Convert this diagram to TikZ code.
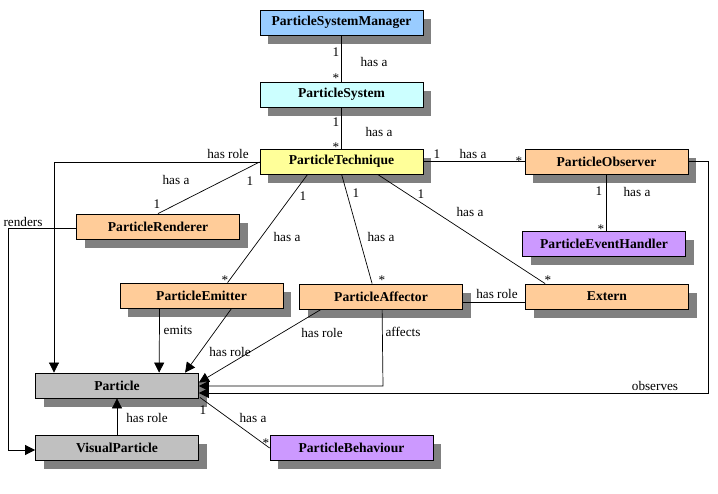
\documentclass[tikz,border=0pt]{standalone}
\usepackage{fontspec}
\setmainfont{Liberation Serif}
\newfontfamily\tms{Liberation Serif}
\usetikzlibrary{arrows.meta,shadows,calc}
\definecolor{cBlue}{HTML}{99CCFF}
\definecolor{cCyan}{HTML}{CCFFFF}
\definecolor{cYellow}{HTML}{FFFF99}
\definecolor{cOrange}{HTML}{FFCC99}
\definecolor{cPurple}{HTML}{CC99FF}
\definecolor{cGray}{HTML}{C0C0C0}
\definecolor{cShadow}{HTML}{808080}
\tikzset{
  cls/.style={draw=black, line width=0.8pt, minimum width=163pt, minimum height=25pt, inner sep=0pt,
    font=\tms\fontsize{13.6}{15}\selectfont\bfseries,
    general shadow={shadow xshift=8pt, shadow yshift=-9pt, fill=cShadow, draw=none}},
  lbl/.style={font=\tms\fontsize{13.2}{15}\selectfont, inner sep=0pt},
  conn/.style={draw=black, line width=0.7pt},
  arr/.style={conn, -{Triangle[length=10pt,width=10pt]}}
}
\begin{document}
\begin{tikzpicture}[x=1pt,y=-1pt]
\useasboundingbox (0,0) rectangle (718,494);
\fill[white] (0,0) rectangle (718,494);
% classes
\node[cls, fill=cBlue]   (psm) at (341.5,22.5) {ParticleSystemManager};
\node[cls, fill=cCyan]   (ps)  at (341.5,94.5) {ParticleSystem};
\node[cls, fill=cYellow] (pt)  at (341.5,161.5) {ParticleTechnique};
\node[cls, fill=cOrange] (po)  at (606.5,161.5) {ParticleObserver};
\node[cls, fill=cPurple] (peh) at (604,243.5) {ParticleEventHandler};
\node[cls, fill=cOrange] (pr)  at (158,226.5) {ParticleRenderer};
\node[cls, fill=cOrange] (pe)  at (201.5,295.5) {ParticleEmitter};
\node[cls, fill=cOrange] (pa)  at (381,296.5) {ParticleAffector};
\node[cls, fill=cOrange] (ext) at (607,296.5) {Extern};
\node[cls, fill=cGray]   (p)   at (117,385.5) {Particle};
\node[cls, fill=cGray]   (vp)  at (117,447.5) {VisualParticle};
\node[cls, fill=cPurple] (pb)  at (351.5,447.5) {ParticleBehaviour};
% helper coordinates
\coordinate (ptL) at ($(pt.west)+(0,0.5)$);
\coordinate (hr1) at (54,162);
\coordinate (rd1) at (8,228);
\coordinate (rd2) at (8,450);
\coordinate (ob1) at (708,161.5);
\coordinate (ob2) at (708,393);
\coordinate (af1) at (383,386);
% connectors
\draw[conn] (psm.south) -- (ps.north);
\draw[conn] (ps.south) -- (pt.north);
\draw[conn] (pt.east) -- (po.west);
\draw[conn] (po.south) -- (po.south |- peh.north);
\draw[conn] (ptL) -- (pr.north);
\draw[arr] (ptL) -- (hr1) -- (hr1 |- p.north);
\draw[arr] (pr.west |- rd1) -- (rd1) -- (rd2) -- (vp.west |- rd2);
\draw[conn] ($(pt.south west)+(48,0)$) -- ($(pe.north west)+(108,0)$);
\draw[conn] ($(pt.south west)+(82,0)$) -- ($(pa.north west)+(73,0)$);
\draw[conn] ($(pt.south west)+(118,0)$) -- ($(ext.north west)+(20,0)$);
\draw[conn] ($(pa.east)+(0,5.5)$) -- ($(ext.west)+(0,5.5)$);
\draw[arr] ($(pe.south west)+(40,0)$) -- ($(p.north west)+(124,0)$);
\draw[arr] ($(pe.south west)+(112,0)$) -- ($(p.north west)+(150,0)$);
\draw[arr] ($(pa.south west)+(22,0)$) -- ($(p.east)+(0,-3)$);
\draw[arr] ($(pa.south west)+(83,0)$) -- (af1) -- (af1 -| p.east);
\draw[arr] (po.east) -- (ob1) -- (ob2) -- (ob2 -| p.east);
\draw[arr] (vp.north) -- (p.south);
\draw[conn] ($(p.south east)+(1,-1)$) -- ($(pb.west)+(0,0.5)$);
% labels
\node[lbl] at (336,52) {1};
\node[lbl] at (336,78) {*};
\node[lbl] at (374,62) {has a};
\node[lbl] at (336,122) {1};
\node[lbl] at (336,147) {*};
\node[lbl] at (379,132) {has a};
\node[lbl] at (437,154) {1};
\node[lbl] at (473,154) {has a};
\node[lbl] at (519,161) {*};
\node[lbl] at (599,191) {1};
\node[lbl] at (637,192) {has a};
\node[lbl] at (601,229) {*};
\node[lbl] at (421,194) {1};
\node[lbl] at (470,212) {has a};
\node[lbl] at (548,280) {*};
\node[lbl] at (356,193) {1};
\node[lbl] at (381,237) {has a};
\node[lbl] at (382,280) {*};
\node[lbl] at (303,196) {1};
\node[lbl] at (287,237) {has a};
\node[lbl] at (225,280) {*};
\node[lbl] at (176,180) {has a};
\node[lbl] at (250,181) {1};
\node[lbl] at (157,204) {1};
\node[lbl] at (228,154) {has role};
\node[lbl] at (23,222) {renders};
\node[lbl] at (178,330) {emits};
\node[lbl] at (230,352) {has role};
\node[lbl] at (322,333) {has role};
\node[lbl] at (403,332) {affects};
\node[lbl] at (497,294) {has role};
\node[lbl] at (655,386) {observes};
\node[lbl] at (147,418) {has role};
\node[lbl] at (203,410) {1};
\node[lbl] at (253,418) {has a};
\node[lbl] at (266,443) {*};
\end{tikzpicture}
\end{document}
